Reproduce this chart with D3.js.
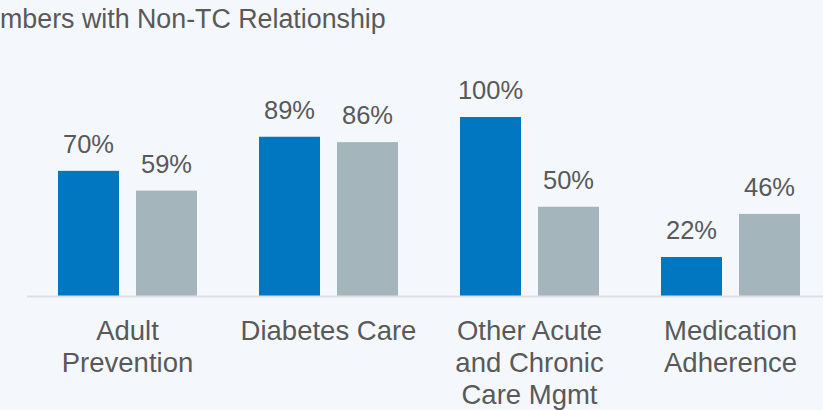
<!DOCTYPE html>
<html>

<head>
    <meta charset="utf-8">
    <style>
        body { margin: 0; background: #f4f8fc; }
        svg { display: block; font-family: Arial, "Liberation Sans", sans-serif; }
        .axis path { stroke: #dde1e5; stroke-width: 2px; }
        .axis text { fill: #595959; font-size: 27.5px; }
        .value { fill: #595959; font-size: 25.5px; text-anchor: middle; }
    </style>
</head>

<body>
    <script src="https://d3js.org/d3.v7.min.js"></script>
    <script>
        // chart values
        var categories = ["Adult Prevention", "Diabetes Care", "Other Acute and Chronic Care Mgmt", "Medication Adherence"];
        var categoryLines = [["Adult", "Prevention"], ["Diabetes Care"], ["Other Acute", "and Chronic", "Care Mgmt"], ["Medication", "Adherence"]];
        var seriesKeys = ["tc", "nonTc"];
        var tcValues = [70, 89, 100, 22];
        var nonTcValues = [59, 86, 50, 46];
        // the title is cropped at the left edge of the picture
        var titleText = "mbers with Non-TC Relationship";

        var width = 823, height = 410;
        var colors = { tc: "#0077c0", nonTc: "#a5b5bc" };

        var data = categories.map(function (c, i) {
            return { cat: c, tc: tcValues[i], nonTc: nonTcValues[i] };
        });

        var svg = d3.select("body").append("svg")
            .attr("width", width)
            .attr("height", height);

        svg.append("rect").attr("width", width).attr("height", height).attr("fill", "#f4f8fc");

        svg.append("text")
            .attr("x", 0)
            .attr("y", 28)
            .style("font-size", "26.8px")
            .style("fill", "#595959")
            .text(titleText);

        var x0 = d3.scaleBand().domain(categories).range([27, 831]);
        var x1 = d3.scaleBand().domain(seriesKeys).range([-69.5, 69.5]).paddingInner(0.218);
        var y = d3.scaleLinear().domain([0, 100]).range([296.5, 117]);

        var groups = svg.selectAll(".group")
            .data(data)
            .enter().append("g")
            .attr("transform", function (d) { return "translate(" + (x0(d.cat) + x0.bandwidth() / 2) + ",0)"; });

        var bars = groups.selectAll("g.bar")
            .data(function (d) { return seriesKeys.map(function (k) { return { key: k, value: d[k] }; }); })
            .enter().append("g").attr("class", "bar");

        bars.append("rect")
            .attr("x", function (d) { return x1(d.key); })
            .attr("y", function (d) { return y(d.value); })
            .attr("width", x1.bandwidth())
            .attr("height", function (d) { return y(0) - y(d.value); })
            .attr("fill", function (d) { return colors[d.key]; });

        bars.append("text")
            .attr("class", "value")
            .attr("x", function (d) { return x1(d.key) + x1.bandwidth() / 2; })
            .attr("y", function (d) { return y(d.value) - 18; })
            .text(function (d) { return d.value + "%"; });

        // baseline with multi-line category labels
        var axis = svg.append("g")
            .attr("class", "axis")
            .attr("transform", "translate(0," + y(0) + ")")
            .call(d3.axisBottom(x0).tickSize(0).tickSizeOuter(0).tickPadding(0));

        axis.select(".domain").attr("d", "M27,0H" + width);

        axis.selectAll(".tick text").each(function (d, i) {
            var t = d3.select(this).text(null).attr("y", 0).attr("dy", null);
            categoryLines[i].forEach(function (line, j) {
                t.append("tspan")
                    .attr("x", 0)
                    .attr("y", 43 + j * 32)
                    .text(line);
            });
        });
    </script>
</body>

</html>
